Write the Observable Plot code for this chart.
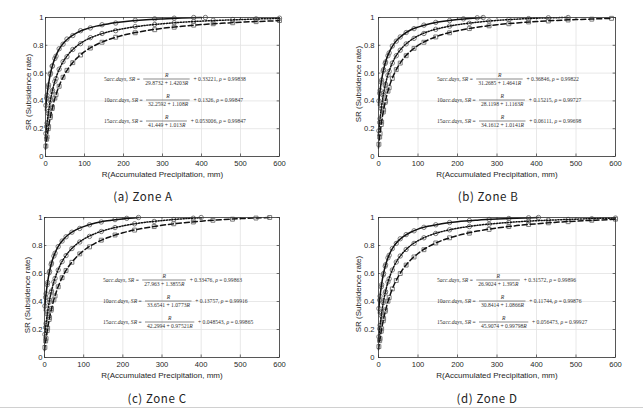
<!DOCTYPE html>
<html><head><meta charset="utf-8">
<script src="https://cdn.jsdelivr.net/npm/d3@7"></script>
<script src="https://cdn.jsdelivr.net/npm/@observablehq/plot@0.6"></script>
<style>
body{margin:0;background:#fff;}
#fig{position:relative;width:643px;height:409px;overflow:hidden;background:#fff;}
.panel{position:absolute;}
.panel svg{overflow:visible;}
.cap{position:absolute;font-family:"Noto Sans CJK KR","Noto Sans",sans-serif;font-size:11.5px;letter-spacing:0.6px;color:#222;transform:translate(-50%,-50%);white-space:nowrap;}
.ylab{position:absolute;font-family:"Liberation Sans",Arial,sans-serif;font-size:8px;color:#262626;white-space:nowrap;transform:translate(-50%,-50%) rotate(-90deg);}
.eq{position:absolute;white-space:nowrap;font-family:"Liberation Serif","DejaVu Serif",serif;font-size:10px;color:#333;transform-origin:0 0;transform:scale(0.56) translateY(-50%);display:flex;align-items:center;}
.frac{display:inline-flex;flex-direction:column;align-items:center;margin:0 4px;}
.frac .num{border-bottom:1.4px solid #333;padding:0 3px 1px;align-self:stretch;text-align:center;}
.frac .den{padding:1px 3px 0;}
.bline{position:absolute;left:0;top:407px;width:643px;height:1px;background:#d0d0d0;}
</style>
</head><body>
<div id="fig"><div class="bline"></div></div>
<script>
// ---- axes ----
const xTicks = [0,100,200,300,400,500,600];
const yTicks = [0,0.2,0.4,0.6,0.8,1];
const xLabel = "R(Accumulated Precipitation, mm)";
const yLabel = "SR (Subsidence rate)";
const seriesNames = ["5acc.days","10acc.days","15acc.days"];
const captions = ["(a) Zone A","(b) Zone B","(c) Zone C","(d) Zone D"];

// shared R grids
const gridR600 = [0,2,5,10,15,20,30,40,50,60,80,100,130,160,200,250,300,350,400,450,500,550,600];
const obsR600 = [1,3,4,7,8,12,13,17,18,24,27,35,45,55,70,90,115,145,180,230,280,330,380,430,480,540,600];

// ---- Zone A ----
const A5_fitR = [0,2,5,10,15,20,30,40,50,60,80,100,130,160,200,250,300,350,400];
const A5_fitSR = [.332,.393,.467,.559,.625,.675,.746,.794,.828,.853,.890,.914,.938,.954,.969,.982,.990,.996,1.0];
const A5_obsR = [1,3,4,7,8,12,13,17,18,24,27,35,45,55,70,90,115,145,180,230,280,330,380,410];
const A5_obsSR = [.368,.420,.440,.500,.515,.590,.600,.650,.652,.705,.722,.775,.808,.845,.870,.905,.925,.948,.960,.980,.990,.995,1.0,1.0];
const A10_fitSR = [.133,.191,.265,.363,.440,.500,.591,.655,.703,.740,.794,.832,.870,.896,.920,.941,.955,.966,.974,.980,.985,.990,.993];
const A10_obsSR = [.165,.215,.240,.310,.325,.400,.410,.465,.475,.540,.560,.628,.682,.718,.770,.812,.855,.885,.905,.935,.950,.962,.972,.980,.985,.990,.995];
const A15_fitSR = [.053,.099,.161,.247,.318,.377,.471,.541,.596,.640,.706,.754,.804,.839,.873,.901,.922,.937,.949,.958,.966,.972,.977];
const A15_obsSR = [.075,.125,.140,.200,.215,.280,.292,.345,.355,.420,.445,.505,.570,.620,.675,.730,.780,.822,.858,.890,.912,.930,.945,.955,.962,.970,.978];
const A_eqDen = ["29.8732 + 1.4203","32.2592 + 1.108","41.449 + 1.013"];
const A_eqC = ["0.33221","0.1326","0.053006"];
const A_eqRho = ["0.99838","0.99847","0.99847"];

// ---- Zone B ----
const B5_fitR = [0,2,5,10,15,20,30,40,50,60,80,100,130,160,200,230,265];
const B5_fitSR = [.368,.427,.498,.586,.650,.699,.767,.814,.847,.872,.908,.931,.955,.971,.986,.993,1.0];
const B5_obsR = [1,3,4,7,8,12,13,17,18,24,27,35,45,55,70,90,115,145,180,215,250,265];
const B5_obsSR = [.400,.455,.475,.535,.550,.615,.625,.670,.680,.725,.745,.795,.830,.860,.892,.920,.945,.965,.978,.990,.998,1.0];
const B10_fitR = [0,2,5,10,15,20,30,40,50,60,80,100,130,160,200,250,300,350,400,480];
const B10_fitSR = [.152,.218,.300,.407,.487,.549,.639,.702,.748,.783,.833,.868,.903,.926,.948,.966,.979,.988,.995,1.0];
const B10_obsR = [1,3,4,7,8,12,13,17,18,24,27,35,45,55,70,90,115,145,180,230,280,330,380,430,480];
const B10_obsSR = [.185,.245,.272,.345,.365,.440,.455,.510,.520,.585,.612,.672,.725,.765,.810,.850,.885,.915,.938,.958,.975,.985,.992,.998,1.0];
const B15_fitR = [0,2,5,10,15,20,30,40,50,60,80,100,130,160,200,250,300,350,400,450,500,550,590];
const B15_fitSR = [.061,.116,.189,.287,.365,.429,.526,.596,.650,.693,.755,.799,.844,.876,.905,.930,.948,.961,.971,.979,.985,.990,.994];
const B15_obsR = [1,3,4,7,8,12,13,17,18,24,27,35,45,55,70,90,115,145,180,230,280,330,380,430,480,540,590];
const B15_obsSR = [.088,.140,.165,.230,.248,.320,.335,.390,.400,.470,.495,.562,.625,.672,.725,.778,.822,.860,.890,.920,.940,.955,.968,.975,.982,.988,.994];
const B_eqDen = ["31.2685 + 1.4641","28.1198 + 1.1163","34.1612 + 1.0141"];
const B_eqC = ["0.36846","0.15215","0.06111"];
const B_eqRho = ["0.99822","0.99727","0.99698"];

// ---- Zone C ----
const C5_fitR = [0,2,5,10,15,20,30,40,50,60,80,100,130,160,200,240];
const C5_fitSR = [.335,.400,.478,.574,.643,.694,.766,.815,.849,.875,.911,.935,.960,.976,.990,1.0];
const C5_obsR = [1,3,4,7,8,12,13,17,18,24,27,35,45,55,70,90,115,145,180,210,240];
const C5_obsSR = [.368,.430,.455,.520,.535,.605,.615,.665,.675,.725,.745,.792,.832,.862,.895,.922,.948,.968,.985,.994,1.0];
const C10_fitR = [0,2,5,10,15,20,30,40,50,60,80,100,130,160,200,250,300,350,400];
const C10_fitSR = [.138,.193,.266,.363,.439,.500,.592,.659,.709,.748,.805,.845,.886,.914,.940,.963,.978,.990,.999];
const C10_obsR = [1,3,4,7,8,12,13,17,18,24,27,35,45,55,70,90,115,145,180,230,280,330,380,400];
const C10_obsSR = [.165,.215,.242,.310,.325,.395,.410,.465,.475,.540,.565,.625,.685,.728,.778,.825,.865,.900,.928,.955,.972,.985,.995,1.0];
const C15_fitR = [0,2,5,10,15,20,30,40,50,60,80,100,130,160,200,250,300,350,400,450,500,575];
const C15_fitSR = [.049,.094,.155,.241,.312,.372,.468,.541,.598,.644,.713,.764,.817,.855,.891,.922,.944,.961,.974,.984,.992,1.0];
const C15_obsR = [1,3,4,7,8,12,13,17,18,24,27,35,45,55,70,90,115,145,180,230,280,330,380,430,480,540,575];
const C15_obsSR = [.072,.118,.135,.192,.210,.272,.285,.338,.350,.412,.440,.505,.570,.622,.680,.740,.790,.838,.875,.910,.935,.955,.968,.980,.988,.996,1.0];
const C_eqDen = ["27.963 + 1.3855","33.6541 + 1.0773","42.2994 + 0.97521"];
const C_eqC = ["0.33476","0.13757","0.048543"];
const C_eqRho = ["0.99863","0.99916","0.99865"];

// ---- Zone D ----
const D5_fitR = [0,2,5,10,15,20,30,40,50,60,80,100,130,160,200,250,300,350,405];
const D5_fitSR = [.316,.383,.463,.561,.629,.681,.752,.799,.833,.858,.893,.917,.940,.956,.970,.981,.989,.995,1.0];
const D5_obsR = [1,3,4,7,8,12,13,17,18,24,27,35,45,55,70,90,115,145,180,230,280,330,380,405];
const D5_obsSR = [.350,.410,.438,.505,.520,.590,.600,.652,.662,.712,.730,.778,.815,.848,.878,.905,.930,.948,.964,.978,.986,.993,.998,1.0];
const D10_fitSR = [.117,.178,.255,.357,.436,.498,.590,.656,.705,.742,.797,.834,.873,.899,.923,.944,.958,.969,.977,.983,.988,.993,.996];
const D10_obsSR = [.148,.205,.230,.300,.318,.392,.405,.460,.470,.540,.562,.625,.682,.725,.772,.815,.855,.886,.912,.935,.952,.965,.974,.981,.986,.991,.996];
const D15_fitSR = [.056,.098,.155,.235,.303,.360,.452,.523,.578,.624,.693,.743,.797,.835,.871,.903,.925,.942,.955,.966,.974,.981,.987];
const D15_obsSR = [.078,.120,.135,.188,.205,.262,.278,.330,.340,.402,.428,.490,.550,.600,.660,.718,.770,.818,.855,.888,.915,.935,.950,.962,.970,.980,.988];
const D_eqDen = ["26.9024 + 1.395","30.8414 + 1.0866","45.9074 + 0.99798"];
const D_eqC = ["0.31572","0.11744","0.056473"];
const D_eqRho = ["0.99896","0.99876","0.99927"];

// equation anchor (data coords)
const eqAnchorR = 150;
const eqAnchorSR = [0.553, 0.402, 0.251];

// ---- styles ----
const markerSymbols = ["circle","circle","square"];
const dashes = [null, "1.2,1.6", "5,3"];

const toPts = (xs, ys) => xs.map((x, i) => ({R: x, SR: ys[i]}));

const zones = [
  {series: [[A5_fitR,A5_fitSR,A5_obsR,A5_obsSR],[gridR600,A10_fitSR,obsR600,A10_obsSR],[gridR600,A15_fitSR,obsR600,A15_obsSR]],
   den: A_eqDen, c: A_eqC, rho: A_eqRho,
   box:{left:0,top:0,width:300,height:185,ml:45,mr:21,mt:17,mb:29,pad:2}, ylab:[28,92], cap:[143,196]},
  {series: [[B5_fitR,B5_fitSR,B5_obsR,B5_obsSR],[B10_fitR,B10_fitSR,B10_obsR,B10_obsSR],[B15_fitR,B15_fitSR,B15_obsR,B15_obsSR]],
   den: B_eqDen, c: B_eqC, rho: B_eqRho,
   box:{left:320,top:0,width:323,height:185,ml:58,mr:28,mt:17,mb:29,pad:4}, ylab:[358,84], cap:[488,196]},
  {series: [[C5_fitR,C5_fitSR,C5_obsR,C5_obsSR],[C10_fitR,C10_fitSR,C10_obsR,C10_obsSR],[C15_fitR,C15_fitSR,C15_obsR,C15_obsSR]],
   den: C_eqDen, c: C_eqC, rho: C_eqRho,
   box:{left:0,top:200,width:300,height:185,ml:44,mr:21,mt:17,mb:28,pad:2}, ylab:[27,295], cap:[157,398]},
  {series: [[D5_fitR,D5_fitSR,D5_obsR,D5_obsSR],[gridR600,D10_fitSR,obsR600,D10_obsSR],[gridR600,D15_fitSR,obsR600,D15_obsSR]],
   den: D_eqDen, c: D_eqC, rho: D_eqRho,
   box:{left:320,top:200,width:323,height:185,ml:58,mr:28,mt:17,mb:28,pad:4}, ylab:[358,294], cap:[487,398]}
];

const fig = document.getElementById("fig");

zones.forEach((z, zi) => {
  const b = z.box;
  const marks = [
    Plot.gridX(xTicks, {stroke: "#e2e2e2", strokeOpacity: 1, strokeWidth: 0.8}),
    Plot.gridY(yTicks, {stroke: "#e2e2e2", strokeOpacity: 1, strokeWidth: 0.8}),
    Plot.ruleX(xTicks, {y1: 0, y2: 0.018, stroke: "#333", strokeWidth: 0.7}),
    Plot.ruleX(xTicks, {y1: 0.982, y2: 1, stroke: "#333", strokeWidth: 0.7}),
    Plot.ruleY(yTicks, {x1: 0, x2: 6, stroke: "#333", strokeWidth: 0.7}),
    Plot.ruleY(yTicks, {x1: 594, x2: 600, stroke: "#333", strokeWidth: 0.7})
  ];
  z.series.forEach((s, i) => {
    marks.push(Plot.dot(toPts(s[2], s[3]), {x: "R", y: "SR", r: 2.2, symbol: markerSymbols[i],
      stroke: "#7a7a7a", strokeWidth: 1, fill: "none"}));
  });
  z.series.forEach((s, i) => {
    marks.push(Plot.line(toPts(s[0], s[1]), {x: "R", y: "SR", stroke: "#111", strokeWidth: 1.5,
      strokeDasharray: dashes[i] || undefined, curve: "monotone-x"}));
  });
  marks.push(Plot.frame({stroke: "#333", strokeWidth: 0.8}));
  marks.push(Plot.text([xLabel], {frameAnchor: "bottom", dy: 18, lineAnchor: "middle", fontSize: 8, fill: "#262626"}));

  const plot = Plot.plot({
    width: b.width, height: b.height,
    marginLeft: b.ml, marginRight: b.mr, marginTop: b.mt, marginBottom: b.mb,
    style: {fontFamily: "'Liberation Sans', Arial, sans-serif", fontSize: "7.6px", color: "#262626", background: "transparent"},
    x: {domain: [0, 600], ticks: xTicks, tickSize: 0, tickPadding: 4, label: null},
    y: {domain: [0, 1], ticks: yTicks, tickSize: 0, tickPadding: b.pad, label: null, tickFormat: d => String(d)},
    marks
  });
  const wrap = document.createElement("div");
  wrap.className = "panel";
  wrap.style.left = b.left + "px";
  wrap.style.top = b.top + "px";
  wrap.appendChild(plot);
  fig.appendChild(wrap);

  const yl = document.createElement("div");
  yl.className = "ylab";
  yl.style.left = z.ylab[0] + "px";
  yl.style.top = z.ylab[1] + "px";
  yl.textContent = yLabel;
  fig.appendChild(yl);

  const sx = plot.scale("x"), sy = plot.scale("y");
  for (let k = 0; k < 3; k++) {
    const eq = document.createElement("div");
    eq.className = "eq";
    eq.style.left = (b.left + sx.apply(eqAnchorR)) + "px";
    eq.style.top = (b.top + sy.apply(eqAnchorSR[k])) + "px";
    const nm = seriesNames[k];
    const num = nm.match(/^\d+/)[0];
    eq.innerHTML = `<span>${num}<i>${nm.slice(num.length)}, SR</i>&nbsp;=&nbsp;</span>` +
      `<span class="frac"><span class="num"><i>R</i></span><span class="den">${z.den[k]}<i>R</i></span></span>` +
      `<span>&nbsp;+&nbsp;${z.c[k]},&nbsp;<i>ρ</i>&nbsp;=&nbsp;${z.rho[k]}</span>`;
    fig.appendChild(eq);
  }

  const cap = document.createElement("div");
  cap.className = "cap";
  cap.style.left = z.cap[0] + "px";
  cap.style.top = z.cap[1] + "px";
  cap.textContent = captions[zi];
  fig.appendChild(cap);
});
</script>
</body></html>
